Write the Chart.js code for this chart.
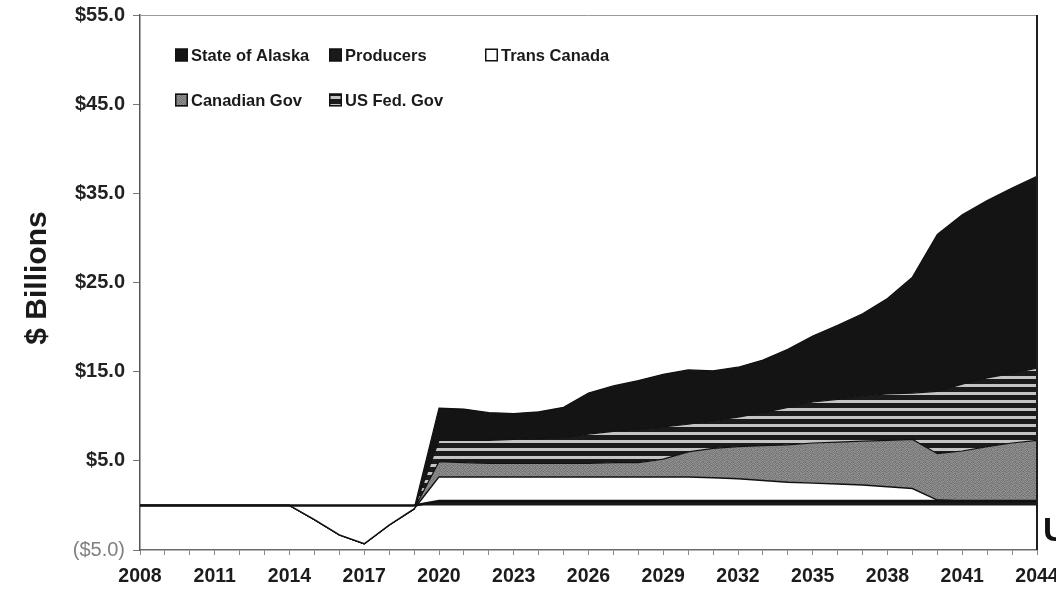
<!DOCTYPE html>
<html>
<head>
<meta charset="utf-8">
<script src="https://cdn.jsdelivr.net/npm/chart.js@4.4.1/dist/chart.umd.min.js"></script>
<style>
  html, body { margin: 0; padding: 0; background: #ffffff; }
  #wrap { position: relative; width: 1056px; height: 590px; }
</style>
</head>
<body>
<div id="wrap"><canvas id="c" width="1056" height="590"></canvas></div>
<script>
// Years on the horizontal axis
const years = [2008, 2009, 2010, 2011, 2012, 2013, 2014, 2015, 2016, 2017, 2018, 2019,
               2020, 2021, 2022, 2023, 2024, 2025, 2026, 2027, 2028, 2029,
               2030, 2031, 2032, 2033, 2034, 2035, 2036, 2037, 2038, 2039,
               2040, 2041, 2042, 2043, 2044];

// Value shares by party, $ billions (stacked bottom to top)
const producers = [0, 0, 0, 0, 0, 0, 0, 0, 0, 0, 0, 0,
                   0.5, 0.5, 0.5, 0.5, 0.5, 0.5, 0.5, 0.5, 0.5, 0.5,
                   0.5, 0.5, 0.5, 0.5, 0.5, 0.5, 0.5, 0.5, 0.5, 0.5,
                   0.5, 0.5, 0.5, 0.5, 0.5];
const transCanada = [0, 0, 0, 0, 0, 0, 0, -1.6, -3.3, -4.3, -2.2, -0.4,
                     2.7, 2.7, 2.7, 2.7, 2.7, 2.7, 2.7, 2.7, 2.7, 2.7,
                     2.7, 2.6, 2.5, 2.3, 2.1, 2.0, 1.9, 1.8, 1.6, 1.4,
                     0.1, 0, 0, 0, 0];
const canadianGov = [0, 0, 0, 0, 0, 0, 0, 0, 0, 0, 0, 0,
                     1.7, 1.6, 1.5, 1.5, 1.5, 1.5, 1.5, 1.6, 1.6, 2.0,
                     2.8, 3.3, 3.6, 3.9, 4.2, 4.5, 4.7, 4.9, 5.2, 5.5,
                     5.2, 5.6, 6.1, 6.5, 6.8];
const usFedGov = [0, 0, 0, 0, 0, 0, 0, 0, 0, 0, 0, 0,
                  2.4, 2.5, 2.6, 2.7, 2.8, 2.9, 3.3, 3.5, 3.7, 3.6,
                  3.1, 3.1, 3.3, 3.7, 4.2, 4.6, 4.8, 5.1, 5.2, 5.2,
                  7.0, 7.5, 7.7, 7.8, 8.1];
const stateOfAlaska = [0, 0, 0, 0, 0, 0, 0, 0, 0, 0, 0, 0,
                       3.6, 3.5, 3.1, 2.9, 3.0, 3.4, 4.6, 5.1, 5.5, 5.9,
                       6.1, 5.6, 5.6, 5.9, 6.5, 7.4, 8.3, 9.2, 10.7, 13.0,
                       17.6, 19.0, 19.9, 20.8, 21.5];

// Axis range and tick spacing
const yMin = -5, yMax = 55, yStep = 10;
const xMin = 2008, xMax = 2044, xLabelStep = 3;

// Legend entries, in reading order
const legendOrder = ['State of Alaska', 'Producers', 'Trans Canada', 'Canadian Gov', 'US Fed. Gov'];
const yTitle = '$ Billions';

const FONT = "'Liberation Sans', Arial, Helvetica, sans-serif";
Chart.defaults.font.family = FONT;

const canvas = document.getElementById('c');
const ctx = canvas.getContext('2d');

function tilePattern(w, h, paint) {
  const t = document.createElement('canvas');
  t.width = w; t.height = h;
  paint(t.getContext('2d'));
  return ctx.createPattern(t, 'repeat');
}

// horizontal light/dark stripes
const stripeFill = tilePattern(4, 8, g => {
  g.fillStyle = '#1b1b1b'; g.fillRect(0, 0, 4, 8);
  g.fillStyle = '#c4c4c4'; g.fillRect(0, 0, 4, 3);
});

// mottled mid grey
const greyLevels = [
  [136, 120, 146, 126, 140, 112],
  [124, 150, 114, 134, 128, 144],
  [144, 118, 132, 154, 120, 130],
  [116, 138, 124, 106, 146, 134],
  [150, 128, 142, 132, 118, 126],
  [126, 110, 130, 144, 136, 148]
];
const greyFill = tilePattern(6, 6, g => {
  greyLevels.forEach((row, y) => row.forEach((v, x) => {
    g.fillStyle = `rgb(${v},${v},${v})`;
    g.fillRect(x, y, 1, 1);
  }));
});

const fills = {
  'State of Alaska': '#141414',
  'Producers': '#1a1a1a',
  'Trans Canada': '#ffffff',
  'Canadian Gov': greyFill,
  'US Fed. Gov': stripeFill
};

function series(label, data, fill, width) {
  return {
    label, data, fill,
    backgroundColor: fills[label],
    borderColor: '#111111',
    borderWidth: width,
    pointRadius: 0,
    tension: 0
  };
}

// legend drawn inside the plot, top left
const legendPlugin = {
  id: 'insideLegend',
  afterDraw(chart) {
    const a = chart.chartArea;
    const g = chart.ctx;
    const cols = [35, 189, 345];
    const rows = [40, 85];
    g.save();
    g.font = `bold 16.5px ${FONT}`;
    g.textBaseline = 'middle';
    g.textAlign = 'left';
    legendOrder.forEach((name, i) => {
      const x = a.left + cols[i % 3];
      const y = a.top + rows[Math.floor(i / 3)];
      g.fillStyle = fills[name];
      g.fillRect(x, y - 6.5, 13, 13);
      g.strokeStyle = '#111';
      g.lineWidth = 1.5;
      g.strokeRect(x + 0.75, y - 5.75, 11.5, 11.5);
      g.fillStyle = '#1a1a1a';
      g.fillText(name, x + 16, y + 1);
    });
    g.restore();
  }
};

// plot frame on the top and right, the value-axis title, and the clipped caption at the lower right
const framePlugin = {
  id: 'frame',
  afterDraw(chart) {
    const a = chart.chartArea;
    const g = chart.ctx;
    g.save();
    g.strokeStyle = '#9a9a9a';
    g.lineWidth = 1;
    g.beginPath();
    g.moveTo(a.left, a.top + 0.5);
    g.lineTo(a.right, a.top + 0.5);
    g.stroke();
    g.strokeStyle = '#1e1e1e';
    g.lineWidth = 2;
    g.beginPath();
    g.moveTo(a.right, a.top);
    g.lineTo(a.right, a.bottom);
    g.stroke();

    g.fillStyle = '#1a1a1a';
    g.font = `bold 30px ${FONT}`;
    g.textAlign = 'center';
    g.textBaseline = 'middle';
    g.translate(38, 278);
    g.rotate(-Math.PI / 2);
    g.fillText(yTitle, 0, 0);
    g.setTransform(1, 0, 0, 1, 0, 0);

    g.fillStyle = '#111';
    g.font = `bold 34px ${FONT}`;
    g.textAlign = 'left';
    g.textBaseline = 'alphabetic';
    g.fillText('U', 1043, 541);
    g.restore();
  }
};

function money(v) {
  return v < 0 ? '($' + Math.abs(v).toFixed(1) + ')' : '$' + v.toFixed(1);
}

new Chart(ctx, {
  type: 'line',
  data: {
    labels: years,
    datasets: [
      series('Producers', producers, 'origin', 2.5),
      series('Trans Canada', transCanada, '-1', 1.5),
      series('Canadian Gov', canadianGov, '-1', 1.2),
      series('US Fed. Gov', usFedGov, '-1', 1.2),
      series('State of Alaska', stateOfAlaska, '-1', 1.2)
    ]
  },
  options: {
    responsive: false,
    animation: false,
    devicePixelRatio: 1,
    layout: { padding: { top: 15, right: 19, left: 0, bottom: 0 } },
    plugins: {
      legend: { display: false },
      tooltip: { enabled: false },
      filler: { propagate: false }
    },
    scales: {
      x: {
        type: 'linear',
        min: xMin,
        max: xMax,
        ticks: {
          stepSize: 1,
          autoSkip: false,
          maxRotation: 0,
          padding: 10,
          color: '#1c1c1c',
          font: { size: 19.5, weight: 'bold' },
          callback: v => ((v - xMin) % xLabelStep === 0 ? String(v) : '')
        },
        grid: { drawOnChartArea: false, drawTicks: true, tickLength: 5, color: '#8a8a8a' },
        border: { color: '#6a6a6a', width: 1.5 },
        afterFit: s => { s.height = 40; s.paddingRight = 0; }
      },
      y: {
        stacked: true,
        min: yMin,
        max: yMax,
        ticks: {
          stepSize: yStep,
          padding: 8,
          color: c => (c.tick && c.tick.value < 0 ? '#808080' : '#222222'),
          font: c => ({ size: 20, weight: (c.tick && c.tick.value < 0) ? 'normal' : 'bold' }),
          callback: v => money(v)
        },
        grid: { drawOnChartArea: false, drawTicks: true, tickLength: 7, color: '#777' },
        border: { color: '#555', width: 1.5 },
        afterFit: s => { s.width = 140; s.paddingTop = 0; s.paddingBottom = 0; }
      }
    }
  },
  plugins: [legendPlugin, framePlugin]
});
</script>
</body>
</html>
